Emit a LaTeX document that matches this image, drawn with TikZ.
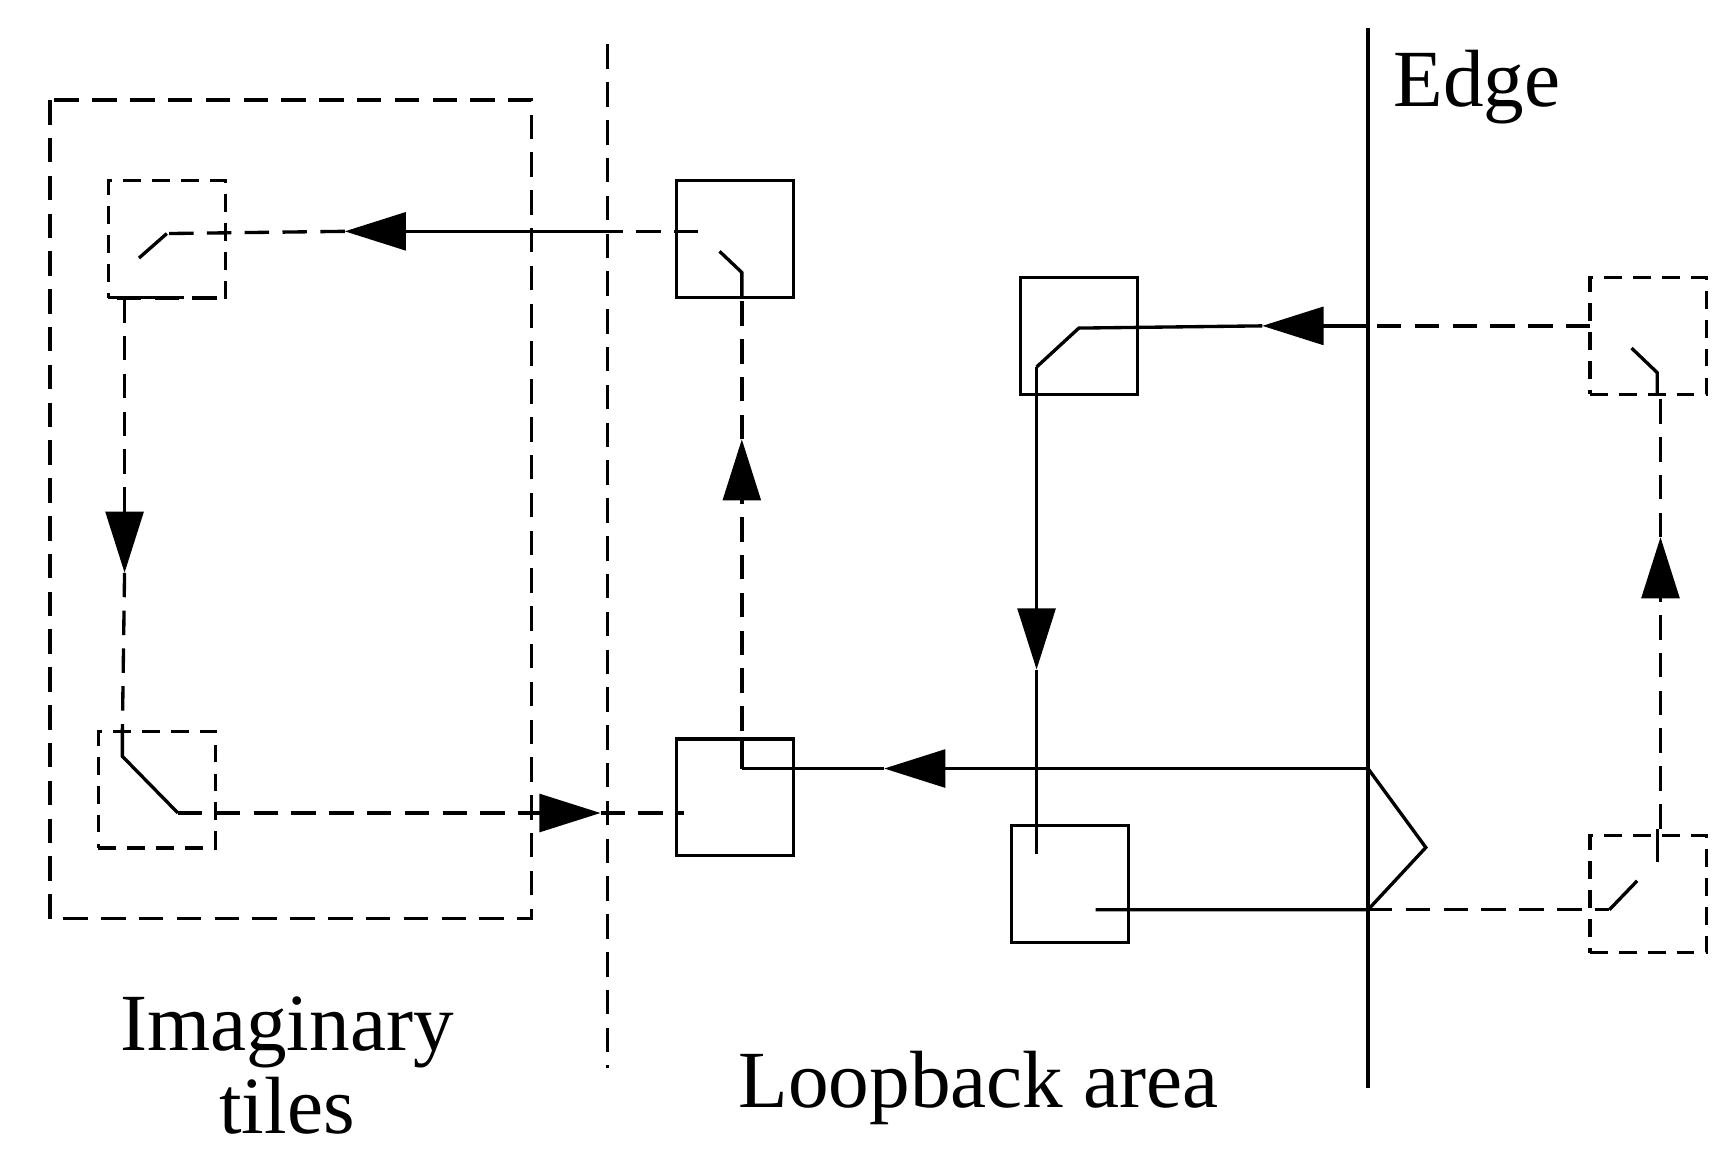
\documentclass[tikz,border=0pt]{standalone}
\usepackage{fontspec}
\setmainfont{Liberation Serif}
\usetikzlibrary{arrows.meta}
\begin{document}
\begin{tikzpicture}[x=1pt,y=-1pt,line width=3pt,
  box/.style={draw,minimum width=105pt,minimum height=105pt,inner sep=0pt,outer sep=0pt},
  dbox/.style={box,dash pattern=on 16pt off 10pt},
  dsh/.style={dash pattern=on 22pt off 12pt},
  tip/.style={-{Triangle[length=55pt,width=34pt]}},
  lbl/.style={font=\fontsize{73}{80}\selectfont,align=center}]
\useasboundingbox (0,0) rectangle (1560,1043);
\draw[dsh] (45,90) rectangle (478,826);
\draw[dsh] (546,40) -- (546,960);
\draw (1230,25) -- (1230,978);
\node[lbl] (edge) at (1328,78) {Edge};
\node[lbl] (imag) at (258,958) {Imaginary\\[-6pt]tiles};
\node[lbl] (loop) at (880,978) {Loopback area};
% boxes
\node[dbox] (A) at (150,215) {};
\node[box] (B) at (661,215) {};
\node[dbox] (C) at (141,710) {};
\node[box] (D) at (661,717) {};
\node[box] (E) at (970,302) {};
\node[box] (F) at (962,795) {};
\node[dbox] (G) at (1482,302) {};
\node[dbox] (H) at (1482,804) {};
% B -> A
\draw (667,268) -- (667,245) -- (647,226);
\draw[dsh] (628,208) -- (546,208);
\draw[tip] (546,208) -- (310,208);
\draw[dsh] (310,208) -- (150,210);
\draw (150,210) -- (125,232);
% A -> C
\draw[dsh] (105,268) -- (203,268);
\draw[dsh] (112,268) -- (112,460);
\draw[tip] (112,460) -- (112,515);
\draw[dsh] (112,515) -- (110,660);
\draw (110,660) -- (110,680) -- (160,731);
% C -> D
\draw[dsh] (160,731) -- (483,731);
\draw[tip] (483,731) -- (540,731);
\draw[dsh] (540,731) -- (615,731);
% D up to B
\draw[dsh] (667,691) -- (667,450);
\draw[tip] (667,450) -- (667,395);
\draw[dsh] (667,395) -- (667,268);
\draw (667,665) -- (667,691);
% Edge -> D
\draw (1230,691) -- (848,691);
\draw[tip] (848,691) -- (795,691);
\draw (795,691) -- (667,691);
% G -> E
\draw (1490,355) -- (1490,335) -- (1467,313);
\draw[dsh] (1430,293) -- (1230,293);
\draw (1230,293) -- (1188,293);
\draw[tip] (1188,293) -- (1135,293);
\draw (1135,293) -- (970,295) -- (932,330);
% E -> F
\draw (932,330) -- (932,548);
\draw[tip] (932,548) -- (932,602);
\draw (932,602) -- (932,768);
% F -> edge -> H
\draw (985,818) -- (1230,818) -- (1282,762) -- (1230,691);
\draw[dsh] (1230,818) -- (1447,818);
\draw (1447,818) -- (1472,792);
\draw (1490,745) -- (1490,775);
% H -> G
\draw[dsh] (1493,745) -- (1493,537);
\draw[tip] (1493,537) -- (1493,483);
\draw[dsh] (1493,483) -- (1493,355);
\end{tikzpicture}
\end{document}
